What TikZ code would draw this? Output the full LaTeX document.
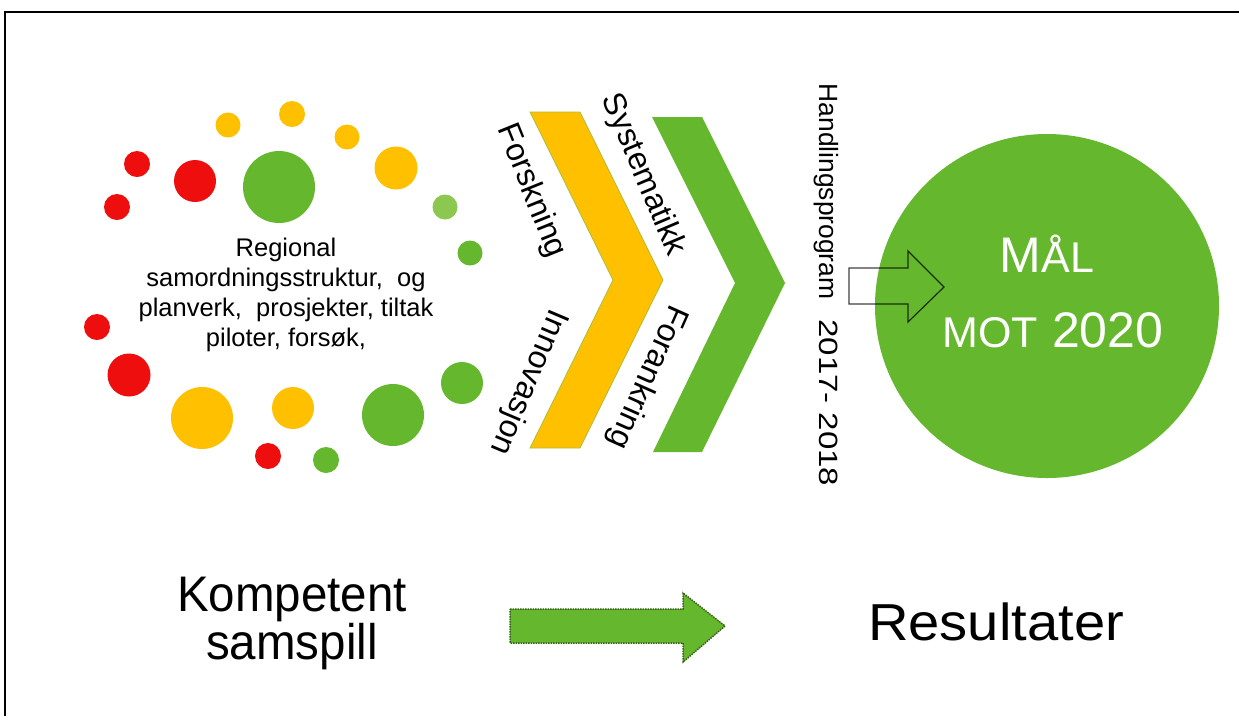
\documentclass[tikz,border=0pt]{standalone}
\usepackage{fontspec}
\setmainfont{Liberation Sans}
\definecolor{cgreen}{RGB}{101,183,45}
\definecolor{clight}{RGB}{140,200,80}
\definecolor{corange}{RGB}{255,192,0}
\definecolor{cred}{RGB}{238,14,14}
\definecolor{cdark}{RGB}{55,95,25}
\tikzset{
  dot/.style={circle, inner sep=0pt, draw=none},
  chevtext/.style={inner sep=0pt, font=\fontsize{32}{32}\selectfont},
}
\begin{document}
\begin{tikzpicture}[x=1pt, y=-1pt]
\useasboundingbox (0,0) rectangle (1239,716);
\fill[white] (0,0) rectangle (1239,716);
% frame
\draw[line width=2pt] (1239,11.5) -- (4.5,11.5) -- (4.5,716);

% dots
\node[dot, fill=corange, minimum size=25] (o1) at (228,125) {};
\node[dot, fill=corange, minimum size=26] (o2) at (292,114) {};
\node[dot, fill=corange, minimum size=25] (o3) at (347,137) {};
\node[dot, fill=corange, minimum size=43] (o4) at (396,168) {};
\node[dot, fill=clight, minimum size=25] (g1) at (445,207) {};
\node[dot, fill=cgreen, minimum size=25] (g2) at (470,253) {};
\node[dot, fill=cred, minimum size=26] (r1) at (137,164) {};
\node[dot, fill=cred, minimum size=26] (r2) at (117,207) {};
\node[dot, fill=cred, minimum size=42] (r3) at (195,181) {};
\node[dot, fill=cgreen, minimum size=72] (g3) at (279,187) {};
\node[dot, fill=cred, minimum size=26] (r4) at (97,327) {};
\node[dot, fill=cred, minimum size=43] (r5) at (129,375) {};
\node[dot, fill=corange, minimum size=62] (o5) at (202,418) {};
\node[dot, fill=corange, minimum size=42] (o6) at (293,408) {};
\node[dot, fill=cred, minimum size=26] (r6) at (268,456) {};
\node[dot, fill=cgreen, minimum size=26] (g4) at (326,460) {};
\node[dot, fill=cgreen, minimum size=62] (g5) at (393,415) {};
\node[dot, fill=cgreen, minimum size=42] (g6) at (462,383) {};

% central text
\node[align=center, inner sep=0pt, font=\fontsize{25.5}{30}\selectfont] (reg) at (286,295)
  {Regional\\samordningsstruktur,\ \ og\\planverk,\ \ prosjekter, tiltak\\piloter, forsøk,};

% chevrons
\filldraw[fill=corange, draw={rgb,255:red,170;green,190;blue,60}, line width=0.8pt]
  (530,112) -- (580,112) -- (663,280) -- (580,448) -- (530,448) -- (613,280) -- cycle;
\fill[cgreen] (652,117) -- (702,117) -- (785,283) -- (702,452) -- (653,452) -- (735,283) -- cycle;

\node[chevtext, rotate=-68] (forsk) at (531,191) {Forskning};
\node[chevtext, rotate=-67] (syst) at (643,175) {Systematikk};
\node[chevtext, rotate=-113] (innov) at (528,382) {Innovasjon};
\node[chevtext, rotate=-114] (foran) at (647,377) {Forankring};

\node[inner sep=0pt, rotate=-90, font=\fontsize{26.4}{26}\selectfont] (hand) at (826,285)
  {Handlingsprogram\hspace{20pt}\scalebox{1.25}[1]{2017- 2018}};

% goal circle
\node[circle, fill=cgreen, minimum size=344, inner sep=0pt] (goal) at (1047,306) {};
\node[anchor=base, inner sep=0pt, text=white, font=\fontsize{50}{50}\selectfont] (mal) at (1047,272)
  {M{\fontsize{43}{43}\selectfont ÅL}};
\node[anchor=base, inner sep=0pt, text=white, font=\fontsize{50}{50}\selectfont] (mot) at (1053,347)
  {{\fontsize{43}{43}\selectfont MOT} 2020};

% small outlined arrow
\draw[draw=black, draw opacity=0.75, line width=1.2pt]
  (849,268) -- (908,268) -- (908,251) -- (944,287) -- (908,322) -- (908,304) -- (849,304) -- cycle;

% bottom
\node[align=center, inner sep=0pt, font=\fontsize{50}{48}\selectfont] (komp) at (292,623)
  {\scalebox{0.95}[1]{Kompetent}\\\scalebox{0.95}[1]{samspill}};
\node[anchor=base, inner sep=0pt, font=\fontsize{52}{52}\selectfont] (res) at (996,640)
  {\scalebox{1.08}[1]{Resultater}};
\filldraw[fill=cgreen, draw=cdark, densely dotted, line width=1.5pt]
  (510,609) -- (683,609) -- (683,593) -- (725,626) -- (683,662) -- (683,643) -- (510,643) -- cycle;
\end{tikzpicture}
\end{document}
